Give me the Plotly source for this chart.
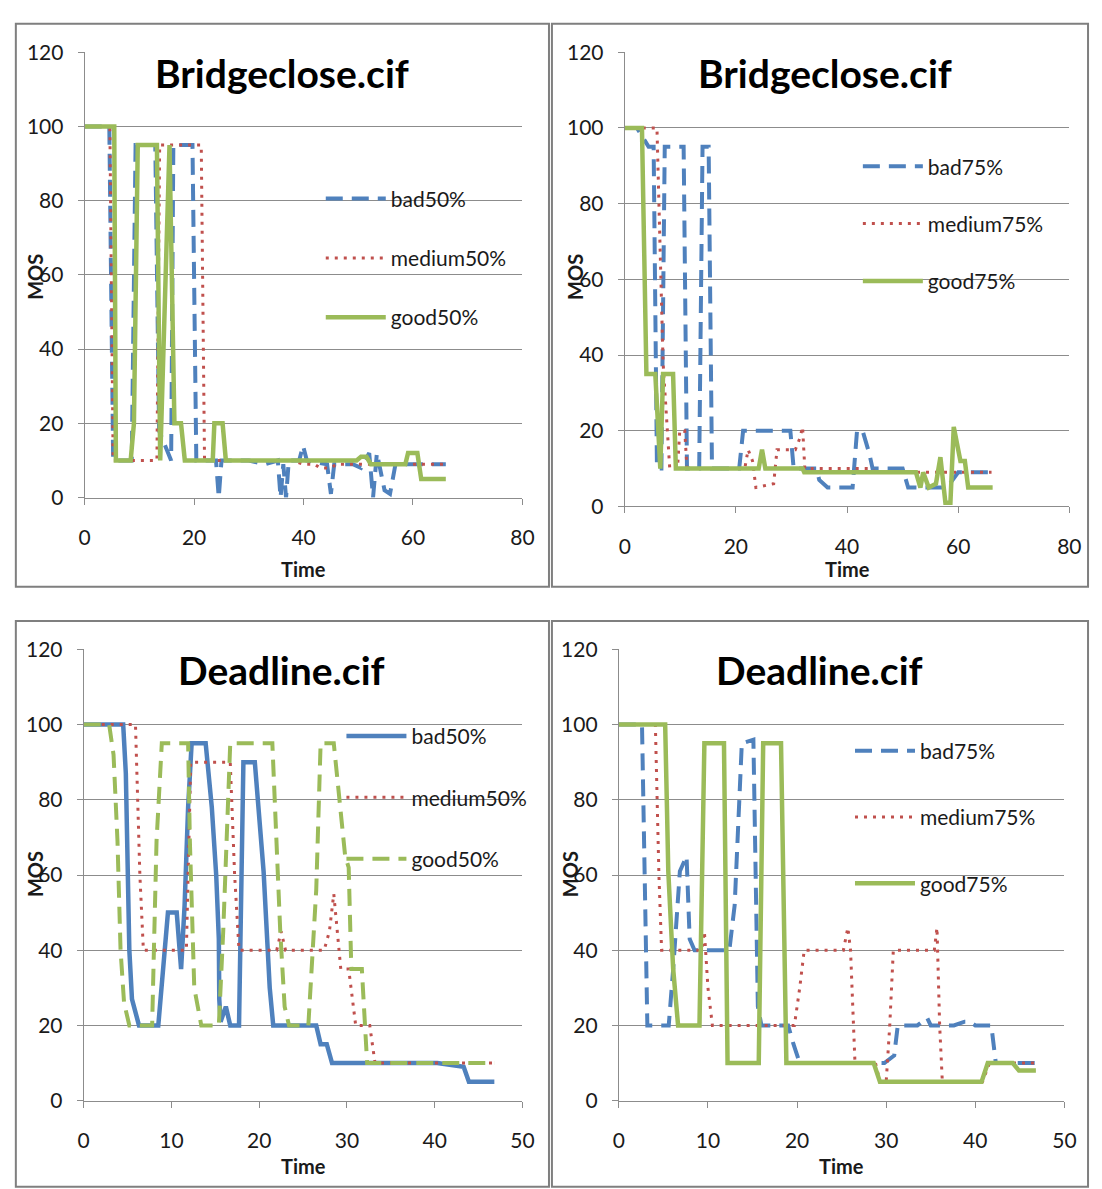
import plotly.graph_objects as go

W, H = 1102, 1189
BLUE = "#4F81BD"
RED = "#C0504D"
GREEN = "#9BBB59"
GRAY = "#8C8C8C"
TXT = "#1a1a1a"
FONT = "Lato"

# ---------------- Panel 1: Bridgeclose.cif (50%) ----------------
p1_bad_t = [0, 4.5, 5.2, 8.6, 9.3, 12.9, 13.6, 15.8, 16.2, 19.7, 20.4, 24.0, 24.5, 25.0, 30, 33, 35.3, 35.8, 36.3, 36.8, 37.3, 38, 39.2, 39.9, 40.6, 44.3, 45.0, 45.6, 49, 50.5, 52, 52.7, 53.4, 54.8, 55.8, 56.8, 66]
p1_bad_v = [100, 100, 10, 10, 95, 95, 18, 10, 95, 95, 10, 10, 0, 10, 10, 9, 10, 0, 9, 0, 10, 10, 10, 14, 10, 9, 1, 9, 9, 8, 12, 0, 12, 2, 1, 9, 9]
p1_med_t = [0, 4.6, 5.2, 13.2, 13.7, 21.3, 21.9, 38, 40, 42, 43, 45, 46, 48, 66]
p1_med_v = [100, 100, 10, 10, 95, 95, 10, 10, 9, 9, 8, 8, 9, 9, 9]
p1_good_t = [0, 5.4, 5.7, 8.4, 9.0, 9.7, 13.2, 13.8, 15.5, 16.4, 17.6, 18.3, 23.4, 23.7, 25.2, 25.8, 49.7, 50.5, 51.5, 52.3, 53, 58.6, 59.1, 60.8, 61.5, 66]
p1_good_v = [100, 100, 10, 10, 20, 95, 95, 10, 95, 20, 20, 10, 10, 20, 20, 10, 10, 11, 11, 9, 9, 9, 12, 12, 5, 5]

# ---------------- Panel 2: Bridgeclose.cif (75%) ----------------
p2_bad_t = [0, 2.2, 4.3, 5.2, 5.8, 6.6, 7.2, 10.6, 11.2, 13.4, 14.0, 15.1, 15.7, 20.6, 21.3, 24.7, 27.6, 29.8, 30.4, 34.5, 35.0, 36.5, 41.0, 41.8, 42.8, 44.0, 44.6, 50, 51, 57, 58.5, 60, 66]
p2_bad_v = [100, 100, 95, 95, 10, 10, 95, 95, 10, 10, 95, 95, 10, 10, 20, 20, 20, 20, 10, 10, 7, 5, 5, 20, 20, 14, 10, 10, 5, 5, 6, 9, 9]
p2_med_t = [0, 5.8, 6.9, 8.1, 9.5, 9.9, 10.8, 11.2, 21.6, 22.2, 23.0, 23.6, 26.8, 27.4, 30.7, 31.5, 32.0, 32.4, 44.4, 45.0, 66]
p2_med_v = [100, 100, 38, 10, 10, 20, 20, 10, 10, 15, 12, 5, 6, 15, 15, 18, 21, 10, 10, 9, 9]
p2_good_t = [0, 3.1, 3.9, 5.5, 6.4, 6.9, 8.7, 9.2, 24.1, 24.7, 25.3, 32.0, 32.3, 52.4, 53.2, 53.7, 54.7, 56.0, 56.8, 57.7, 58.6, 59.2, 60.4, 61.2, 61.8, 66.2]
p2_good_v = [100, 100, 35, 35, 10, 35, 35, 10, 10, 15, 10, 10, 9, 9, 5, 9, 5, 6, 13, 1, 1, 21, 12, 12, 5, 5]

# ---------------- Panel 3: Deadline.cif (50%) ----------------
p3_bad_t = [0, 4.5, 4.8, 5.0, 5.2, 5.5, 6.3, 8.5, 9.1, 9.6, 10.6, 11.1, 11.5, 11.9, 12.3, 13.9, 14.6, 15.1, 15.4, 15.45, 15.6, 16.2, 16.7, 17.7, 18.2, 19.5, 20.5, 21.2, 21.6, 26.5, 27.0, 27.7, 28.3, 40.3, 43.3, 43.9, 46.8]
p3_bad_v = [100, 100, 87, 61, 40, 27, 20, 20, 35, 50, 50, 35, 52, 78, 95, 95, 78, 60, 43, 27, 21, 25, 20, 20, 90, 90, 61, 30, 20, 20, 15, 15, 10, 10, 9, 5, 5]
p3_med_t = [0, 5.9, 6.4, 6.8, 11.7, 12.2, 16.7, 17.2, 17.7, 22.0, 22.5, 23.0, 27.4, 28.0, 28.5, 28.9, 29.3, 30.2, 31.0, 32.6, 33.2, 46.8]
p3_med_v = [100, 100, 60, 40, 40, 90, 90, 60, 40, 40, 45, 40, 40, 45, 55, 45, 35, 35, 20, 20, 10, 10]
p3_good_t = [0, 2.9, 3.4, 3.85, 4.2, 4.6, 5.2, 7.8, 8.0, 8.3, 8.9, 11.9, 12.1, 12.6, 13.4, 15.4, 15.9, 16.4, 16.7, 21.5, 21.9, 22.4, 22.9, 23.4, 25.6, 26.0, 26.5, 27.0, 28.5, 29.8, 30.2, 30.5, 31.7, 32.3, 46.8]
p3_good_v = [100, 100, 92, 69, 40, 26, 20, 20, 40, 69, 95, 95, 69, 30, 20, 20, 45, 78, 95, 95, 70, 45, 25, 20, 20, 35, 56, 95, 95, 65, 62, 35, 35, 10, 10]

# ---------------- Panel 4: Deadline.cif (75%) ----------------
p4_bad_t = [0, 2.6, 3.2, 5.6, 6.1, 6.85, 7.6, 7.95, 8.5, 9.05, 12.4, 13.0, 13.5, 13.8, 15.1, 15.3, 15.6, 16.0, 19.0, 19.6, 20.3, 29.8, 30.4, 30.9, 31.3, 32.5, 33.5, 34.6, 35.0, 37.6, 38.8, 39.4, 40.0, 41.8, 42.3, 46.8]
p4_bad_v = [100, 100, 20, 20, 35, 61, 65, 43, 40, 40, 40, 52, 78, 95, 96, 60, 25, 20, 20, 15, 10, 10, 11, 12, 20, 20, 20, 22, 20, 20, 21, 21, 20, 20, 10, 10]
p4_med_t = [0, 4.1, 4.5, 4.8, 9.3, 9.6, 10.0, 10.5, 19.7, 20.3, 20.8, 25.2, 25.7, 26.0, 26.5, 28.8, 29.3, 30.0, 30.4, 30.8, 35.4, 35.7, 36.0, 36.3, 40.8, 41.6, 46.8]
p4_med_v = [100, 100, 60, 40, 40, 45, 30, 20, 20, 30, 40, 40, 46, 40, 10, 10, 5, 5, 20, 40, 40, 46, 20, 5, 5, 10, 10]
p4_good_t = [0, 5.2, 5.4, 5.55, 6.1, 6.65, 9.05, 9.6, 11.8, 12.2, 15.7, 16.2, 18.2, 18.8, 28.6, 29.3, 40.7, 41.4, 44.2, 44.9, 46.8]
p4_good_v = [100, 100, 78, 61, 35, 20, 20, 95, 95, 10, 10, 95, 95, 10, 10, 5, 5, 10, 10, 8, 8]

# tick labels / text
x_ticks_bridge = [0, 20, 40, 60, 80]
x_ticks_dead = [0, 10, 20, 30, 40, 50]
y_ticks = [0, 20, 40, 60, 80, 100, 120]
titles = ["Bridgeclose.cif", "Bridgeclose.cif", "Deadline.cif", "Deadline.cif"]
names = [["bad50%", "medium50%", "good50%"], ["bad75%", "medium75%", "good75%"],
         ["bad50%", "medium50%", "good50%"], ["bad75%", "medium75%", "good75%"]]


def fx(p):
    return p / W


def fy(p):
    return 1 - p / H


SOLID = dict(width=4.5, dash="solid")
DASH = dict(width=4, dash="17px,9px")
DOT = dict(width=3, dash="3px,6px")

# panel geometry in reference pixels
geo = [
    dict(l=80, r=525, t=39, b=494, xmax=80, xt=x_ticks_bridge, tl=567),
    dict(l=629, r=1081, t=39, b=503, xmax=80, xt=x_ticks_bridge, tl=567),
    dict(l=79, r=525, t=649, b=1110, xmax=50, xt=x_ticks_dead, tl=1177),
    dict(l=623, r=1076, t=649, b=1110, xmax=50, xt=x_ticks_dead, tl=1177),
]

series = [
    [(p1_bad_t, p1_bad_v, BLUE, DASH), (p1_med_t, p1_med_v, RED, DOT), (p1_good_t, p1_good_v, GREEN, SOLID)],
    [(p2_bad_t, p2_bad_v, BLUE, DASH), (p2_med_t, p2_med_v, RED, DOT), (p2_good_t, p2_good_v, GREEN, SOLID)],
    [(p3_bad_t, p3_bad_v, BLUE, SOLID), (p3_med_t, p3_med_v, RED, DOT), (p3_good_t, p3_good_v, GREEN, DASH)],
    [(p4_bad_t, p4_bad_v, BLUE, DASH), (p4_med_t, p4_med_v, RED, DOT), (p4_good_t, p4_good_v, GREEN, SOLID)],
]

# legend placement: (text-left px, first-item center px, spacing px)
leg = [(392, 190, 60), (938, 157, 58), (413, 739, 62), (930, 754, 67)]
ITEMW = 60

fig = go.Figure()
layout = dict(
    width=W, height=H, autosize=False,
    margin=dict(l=0, r=0, t=0, b=0),
    paper_bgcolor="white", plot_bgcolor="white",
    font=dict(family=FONT, color=TXT),
    showlegend=True,
)
annotations = []
shapes = []

for i in range(4):
    g = geo[i]
    sfx = "" if i == 0 else str(i + 1)
    lname = "legend" if i == 0 else "legend%d" % (i + 1)
    for j, (t, v, col, ls) in enumerate(series[i]):
        fig.add_trace(go.Scatter(
            x=t, y=v, mode="lines", name=names[i][j],
            line=dict(color=col, width=ls["width"], dash=ls["dash"]),
            xaxis="x" + sfx, yaxis="y" + sfx,
            legend=lname, legendgroup="p%d_%d" % (i, j),
            hoverinfo="skip",
        ))
    layout["xaxis" + sfx] = dict(
        domain=[fx(g["l"]), fx(g["r"])], range=[0, g["xmax"]],
        tickvals=g["xt"], ticks="outside", ticklen=6, tickcolor=GRAY,
        showline=True, linecolor=GRAY, linewidth=1, showgrid=False, zeroline=False,
        tickfont=dict(family=FONT, size=21, color=TXT), ticklabelstandoff=15,
        anchor="y" + sfx, fixedrange=True,
    )
    layout["yaxis" + sfx] = dict(
        domain=[fy(g["b"]), fy(g["t"])], range=[0, 120],
        tickvals=y_ticks, ticks="outside", ticklen=6, tickcolor=GRAY,
        showline=True, linecolor=GRAY, linewidth=1,
        showgrid=True, gridcolor=GRAY, gridwidth=1, zeroline=False,
        tickfont=dict(family=FONT, size=21, color=TXT), ticklabelstandoff=10,
        anchor="x" + sfx, fixedrange=True,
    )
    lx, ly, sp = leg[i]
    layout[lname] = dict(
        x=fx(lx - ITEMW - 12), y=fy(ly - 22), xanchor="left", yanchor="top",
        bgcolor="rgba(0,0,0,0)", borderwidth=0, itemwidth=ITEMW,
        font=dict(family=FONT, size=21, color=TXT),
        tracegroupgap=sp - 31, itemclick=False, itemdoubleclick=False,
    )
    # chart title
    annotations.append(dict(
        text="<b>%s</b>" % titles[i], xref="paper", yref="paper",
        x=fx(g["l"] + (g["r"] - g["l"]) * 0.45), y=fy(g["t"] + 21),
        xanchor="center", yanchor="middle", showarrow=False,
        font=dict(family=FONT, size=39, color="black"),
    ))
    # x axis title
    annotations.append(dict(
        text="<b>Time</b>", xref="paper", yref="paper",
        x=fx(g["l"] + (g["r"] - g["l"]) * 0.50), y=fy(g["tl"]),
        xanchor="center", yanchor="middle", showarrow=False,
        font=dict(family=FONT, size=20, color=TXT),
    ))
    # y axis title
    annotations.append(dict(
        text="<b>MOS</b>", xref="paper", yref="paper",
        x=fx(g["l"] - 50), y=fy(g["t"] + 230), textangle=-90,
        xanchor="center", yanchor="middle", showarrow=False,
        font=dict(family=FONT, size=20, color=TXT),
    ))

# panel frames (reference pixels)
frames = [(10, 10, 552, 585), (555, 10, 1100, 585), (10, 620, 552, 1198), (555, 620, 1100, 1198)]
for (x0, y0, x1, y1) in frames:
    shapes.append(dict(type="rect", xref="paper", yref="paper",
                       x0=fx(x0), x1=fx(x1), y0=fy(y1), y1=fy(y0),
                       line=dict(color="#7f7f7f", width=2), fillcolor="rgba(0,0,0,0)", layer="below"))

layout["annotations"] = annotations
layout["shapes"] = shapes
fig.update_layout(**layout)

fig.write_html("out.html", include_plotlyjs=True, config={"displayModeBar": False},
               post_script="document.body.style.margin='0';document.body.style.overflow='hidden';")
